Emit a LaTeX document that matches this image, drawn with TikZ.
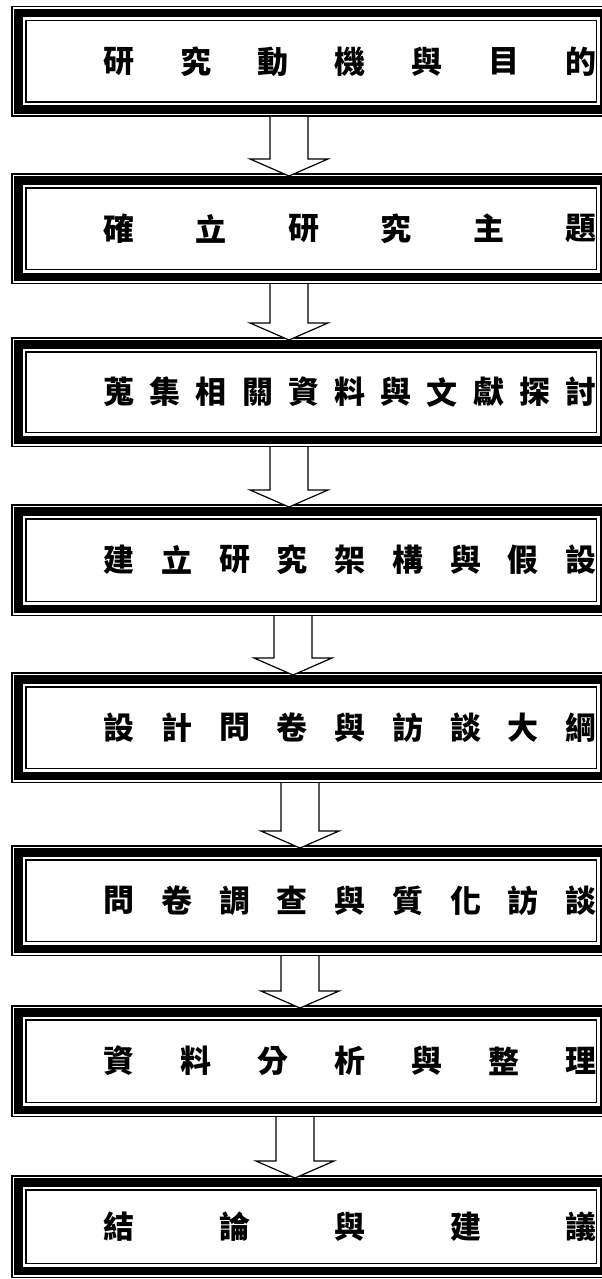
\documentclass[tikz,border=0pt]{standalone}
\usepackage{fontspec}
\newfontfamily\cjk{Noto Sans CJK TC}
\usetikzlibrary{calc,positioning}

\newcommand\flowbox[4]{% name, centre y, height, characters
  \node[outerline, minimum height=#3-1.5] (#1) at (311,#2) {};
  \node[bandline, minimum height=#3-14.5] (#1-band) at (#1) {};
  \node[innerline, minimum height=#3-29.5] (#1-inner) at (#1) {};
  \foreach \c [count=\i] in {#4} {\xdef\nchars{\i}}
  \foreach \c [count=\i] in {#4}
    \node[steptext] (#1-\i) at ({119+462*(\i-1)/(\nchars-1)},#2) {\c};
}
\newcommand\flowarrow[3]{% from, to, x
  \draw[flowarr] let \p1=(#1.south), \p2=(#2.north) in
    ({#3pt-19pt},\y1) -- ({#3pt-19pt},\y2+14pt) -- ({#3pt-39pt},\y2+14pt)
    -- ({#3pt},\y2-3pt) -- ({#3pt+39pt},\y2+14pt) -- ({#3pt+19pt},\y2+14pt)
    -- ({#3pt+19pt},\y1);
}

\begin{document}
\begin{tikzpicture}[x=1pt,y=-1pt]

\tikzset{outerline/.style={rectangle, draw, line width=1.5pt, inner sep=0pt, minimum width=598.5},
         bandline/.style={rectangle, draw, line width=8.5pt, inner sep=0pt, minimum width=585.5},
         innerline/.style={rectangle, draw, line width=1.5pt, inner sep=0pt, minimum width=570.5},
         steptext/.style={font=\cjk\bfseries\fontsize{31}{31}\selectfont, inner sep=0pt},
         flowarr/.style={draw=black, fill=white, line width=1.2pt, line join=miter}}

\useasboundingbox (0,0) rectangle (602,1279);

\flowbox{motive}{61.5}{111}{研,究,動,機,與,目,的}
\flowbox{topic}{228.5}{111}{確,立,研,究,主,題}
\flowbox{review}{392}{110}{蒐,集,相,關,資,料,與,文,獻,探,討}
\flowbox{frame}{560}{112}{建,立,研,究,架,構,與,假,設}
\flowbox{design}{727.5}{111}{設,計,問,卷,與,訪,談,大,綱}
\flowbox{survey}{900.5}{111}{問,卷,調,查,與,質,化,訪,談}
\flowbox{analysis}{1061}{112}{資,料,分,析,與,整,理}
\flowbox{result}{1226.5}{103}{結,論,與,建,議}

\flowarrow{motive}{topic}{289}
\flowarrow{topic}{review}{289}
\flowarrow{review}{frame}{289}
\flowarrow{frame}{design}{293}
\flowarrow{design}{survey}{300}
\flowarrow{survey}{analysis}{300}
\flowarrow{analysis}{result}{295}

\end{tikzpicture}
\end{document}
